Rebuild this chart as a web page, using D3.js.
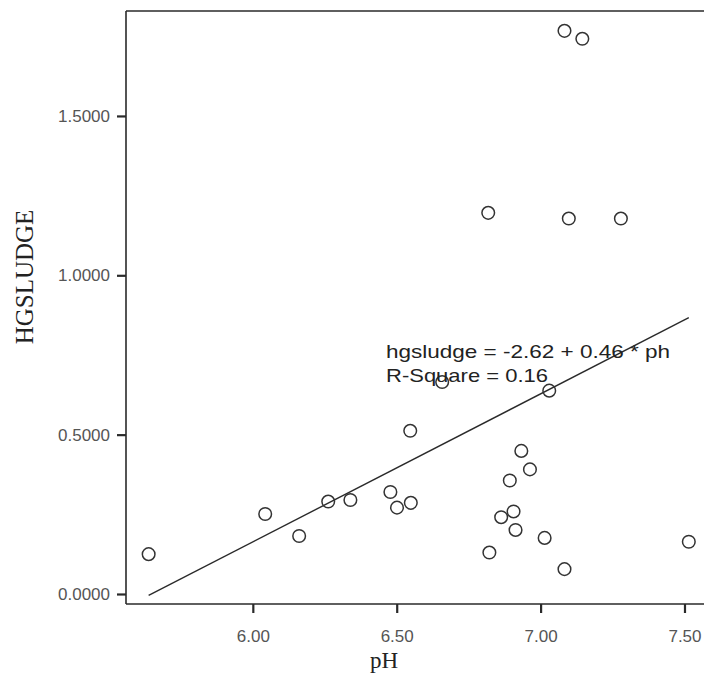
<!DOCTYPE html>
<html>
<head>
<meta charset="utf-8">
<script src="https://cdn.jsdelivr.net/npm/d3@7"></script>
<style>
  html, body { margin: 0; padding: 0; background: #fff; }
  svg { display: block; }
</style>
</head>
<body>
<script>
// pH of each sample and its mercury content in sludge
const ph = [5.638, 6.043, 6.161, 6.262, 6.339, 6.478, 6.501, 6.547, 6.549, 6.658,
            6.818, 6.822, 6.863, 6.893, 6.906, 6.913, 6.933, 6.963, 7.014, 7.030,
            7.083, 7.083, 7.098, 7.145, 7.279, 7.515];
const hgsludge = [0.125, 0.251, 0.182, 0.290, 0.295, 0.320, 0.271, 0.512, 0.286, 0.665,
                  1.196, 0.130, 0.241, 0.356, 0.259, 0.201, 0.449, 0.391, 0.176, 0.638,
                  0.078, 1.767, 1.178, 1.742, 1.178, 0.164];

// Linear fit and its goodness of fit
const intercept = -2.6235;
const slope = 0.4645;
const rSquare = 0.16;

const xTicks = [6.0, 6.5, 7.0, 7.5];
const yTicks = [0.0, 0.5, 1.0, 1.5];

const W = 704, H = 676;
const plotLeft = 126, plotRight = 720, plotTop = 11, plotBottom = 604;

const svg = d3.select("body").append("svg")
  .attr("width", W).attr("height", H);

const x = d3.scaleLinear().domain([5.5593, 7.6234]).range([plotLeft, plotRight]);
const y = d3.scaleLinear().domain([-0.0314, 1.8293]).range([plotBottom, plotTop]);

const ink = "#2a2a2a";

// frame: top edge, left axis, bottom axis
svg.append("line").attr("x1", plotLeft).attr("x2", plotRight)
  .attr("y1", plotTop).attr("y2", plotTop)
  .attr("stroke", ink).attr("stroke-width", 1.6);

const yAxis = svg.append("g").attr("transform", `translate(${plotLeft},0)`)
  .call(d3.axisLeft(y).tickValues(yTicks).tickSize(9).tickPadding(7)
    .tickFormat(d3.format(".4f")).tickSizeOuter(0));
const xAxis = svg.append("g").attr("transform", `translate(0,${plotBottom})`)
  .call(d3.axisBottom(x).tickValues(xTicks).tickSize(9).tickPadding(17)
    .tickFormat(d3.format(".2f")).tickSizeOuter(0));

[yAxis, xAxis].forEach(g => {
  g.select(".domain").attr("stroke", ink).attr("stroke-width", 1.6);
  g.selectAll(".tick line").attr("stroke", ink).attr("stroke-width", 2.2);
  g.selectAll(".tick text")
    .attr("fill", "#555")
    .style("font-family", "'Liberation Sans', Arial, sans-serif")
    .style("font-size", "17px");
});
// extend the left axis line to the top edge
yAxis.select(".domain").attr("d", `M0,${plotTop}V${plotBottom}`);
xAxis.select(".domain").attr("d", `M${plotLeft},0H${plotRight}`);

// regression line across the observed pH range
const [xmin, xmax] = d3.extent(ph);
svg.append("line")
  .attr("x1", x(xmin)).attr("y1", y(intercept + slope * xmin))
  .attr("x2", x(xmax)).attr("y2", y(intercept + slope * xmax))
  .attr("stroke", ink).attr("stroke-width", 1.4);

// observations
svg.append("g").selectAll("circle")
  .data(ph.map((v, i) => [v, hgsludge[i]]))
  .join("circle")
  .attr("cx", d => x(d[0])).attr("cy", d => y(d[1]))
  .attr("r", 6.3)
  .attr("fill", "none").attr("stroke", "#333").attr("stroke-width", 1.5);

// fit annotation
const annot = svg.append("g")
  .style("font-family", "'Liberation Sans', Arial, sans-serif")
  .style("font-size", "19px")
  .attr("fill", "#222");
annot.append("text").attr("x", 386).attr("y", 358)
  .attr("textLength", 284).attr("lengthAdjust", "spacingAndGlyphs")
  .text(`hgsludge = ${intercept.toFixed(2)} + ${slope.toFixed(2)} * ph`);
annot.append("text").attr("x", 386).attr("y", 382)
  .attr("textLength", 162).attr("lengthAdjust", "spacingAndGlyphs")
  .text(`R-Square = ${rSquare.toFixed(2)}`);

// axis titles
svg.append("text")
  .attr("transform", `translate(33,277) rotate(-90)`)
  .attr("text-anchor", "middle")
  .style("font-family", "'Liberation Serif', 'Times New Roman', serif")
  .style("font-size", "25px")
  .attr("fill", "#222")
  .text("HGSLUDGE");
svg.append("text")
  .attr("x", 384).attr("y", 668)
  .attr("text-anchor", "middle")
  .style("font-family", "'Liberation Serif', 'Times New Roman', serif")
  .style("font-size", "23px")
  .attr("fill", "#222")
  .text("pH");
</script>
</body>
</html>
